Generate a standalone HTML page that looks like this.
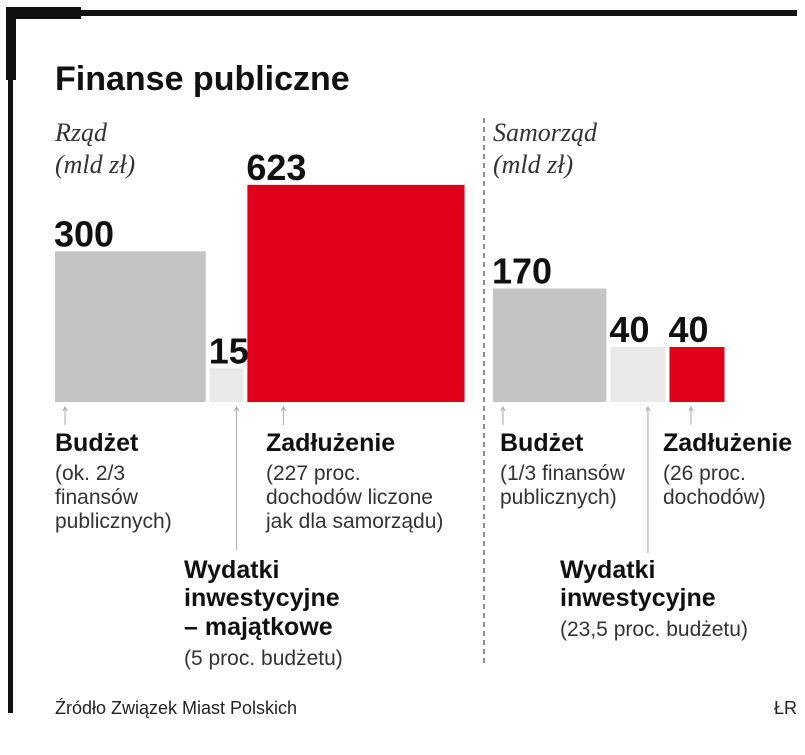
<!DOCTYPE html>
<html><head><meta charset="utf-8">
<style>
html,body{margin:0;padding:0;background:#fff;}
svg{display:block;}
.n{font-family:"Liberation Sans Narrow","Liberation Sans",sans-serif;}
.b{font-weight:bold;fill:#111;}
.s{fill:#333;font-size:21px;}
.it{font-family:"Liberation Serif",serif;font-style:italic;font-size:26px;fill:#333;}
</style></head>
<body>
<svg id="chart" width="805" height="755" viewBox="0 0 805 755">
  <rect x="6" y="7" width="75" height="12" fill="#111"/>
  <rect x="81" y="10" width="716" height="6" fill="#111"/>
  <rect x="6" y="7" width="10" height="73" fill="#111"/>
  <rect x="8" y="80" width="5" height="633" fill="#111"/>
  <text x="55" y="90" class="n b" font-size="34">Finanse publiczne</text>

  <text x="55" y="141" class="it">Rząd</text>
  <text x="55" y="173" class="it">(mld zł)</text>
  <text x="493" y="141" class="it">Samorząd</text>
  <text x="493" y="173" class="it">(mld zł)</text>

  <line x1="484" y1="118" x2="484" y2="665" stroke="#444" stroke-width="1.2" stroke-dasharray="5,4"/>
  <g id="bars"></g>

  <g class="n">
    <text x="55" y="451" class="b" font-size="25">Budżet</text>
    <text x="55" y="480" class="s">(ok. 2/3</text>
    <text x="55" y="504" class="s">finansów</text>
    <text x="55" y="528" class="s">publicznych)</text>

    <text x="266" y="451" class="b" font-size="25">Zadłużenie</text>
    <text x="266" y="480" class="s">(227 proc.</text>
    <text x="266" y="504" class="s">dochodów liczone</text>
    <text x="266" y="528" class="s">jak dla samorządu)</text>

    <text x="184" y="578" class="b" font-size="25">Wydatki</text>
    <text x="184" y="606" class="b" font-size="25">inwestycyjne</text>
    <text x="184" y="635" class="b" font-size="25">– majątkowe</text>
    <text x="184" y="665" class="s">(5 proc. budżetu)</text>

    <text x="500" y="451" class="b" font-size="25">Budżet</text>
    <text x="500" y="480" class="s">(1/3 finansów</text>
    <text x="500" y="504" class="s">publicznych)</text>

    <text x="663" y="451" class="b" font-size="25">Zadłużenie</text>
    <text x="663" y="480" class="s">(26 proc.</text>
    <text x="663" y="504" class="s">dochodów)</text>

    <text x="560" y="578" class="b" font-size="25">Wydatki</text>
    <text x="560" y="606" class="b" font-size="25">inwestycyjne</text>
    <text x="560" y="636" class="s">(23,5 proc. budżetu)</text>

    <text x="55" y="714" font-size="18" fill="#222">Źródło Związek Miast Polskich</text>
    <text x="797" y="714" font-size="18" fill="#222" text-anchor="end">ŁR</text>
  </g>
</svg>
<script>
const categories = ["Budżet (rząd)", "Wydatki (rząd)", "Zadłużenie (rząd)", "Budżet (samorząd)", "Wydatki (samorząd)", "Zadłużenie (samorząd)"];
const values = [300, 15, 623, 170, 40, 40];
const colors = ["#c4c4c4", "#e9e9e9", "#e0001a", "#c4c4c4", "#e9e9e9", "#e0001a"];
const groups = [0, 0, 0, 1, 1, 1];
const arrowEnds = [425, 550, 425, 425, 553, 425];

const NS = "http://www.w3.org/2000/svg";
const baseY = 402;
const groupStart = [55, 493];
const gap = 4;
function side(v){ return Math.sqrt(v) * 8.7; }
const g = document.getElementById("bars");
let cursor = [groupStart[0], groupStart[1]];
values.forEach((v, i) => {
  const s = side(v);
  const x = cursor[groups[i]];
  cursor[groups[i]] += s + gap;
  const r = document.createElementNS(NS, "rect");
  r.setAttribute("x", x); r.setAttribute("y", baseY - s);
  r.setAttribute("width", s); r.setAttribute("height", s);
  r.setAttribute("fill", colors[i]);
  
  
  g.appendChild(r);
  const t = document.createElementNS(NS, "text");
  t.setAttribute("x", x - 1); t.setAttribute("y", baseY - s - 5);
  t.setAttribute("class", "n b"); t.setAttribute("font-size", "36");
  t.textContent = v;
  
  
  g.appendChild(t);
  const ax = i === 0 || i === 3 ? x + 10 : (i === 2 ? x + 36 : x + s / 2 + (i === 5 ? -6 : 10));
  const l = document.createElementNS(NS, "line");
  l.setAttribute("x1", ax); l.setAttribute("x2", ax);
  l.setAttribute("y1", baseY + 5); l.setAttribute("y2", arrowEnds[i]);
  l.setAttribute("stroke", "#aaa"); l.setAttribute("stroke-width", "1");
  
  
  g.appendChild(l);
  const p = document.createElementNS(NS, "path");
  p.setAttribute("d", `M${ax-2},${baseY+9} L${ax},${baseY+5} L${ax+2},${baseY+9}`);
  p.setAttribute("stroke", "#aaa"); p.setAttribute("fill", "none");
  
  
  g.appendChild(p);
});
</script>
</body></html>
